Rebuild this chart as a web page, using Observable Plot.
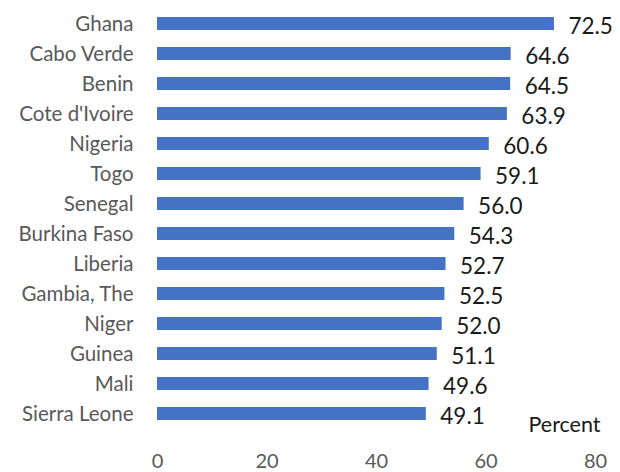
<!DOCTYPE html>
<html>
<head>
<meta charset="utf-8">
<script src="https://cdn.jsdelivr.net/npm/d3@7"></script>
<script src="https://cdn.jsdelivr.net/npm/@observablehq/plot@0.6"></script>
<style>
  html, body { margin: 0; padding: 0; background: #fff; }
  #chart svg { font-family: Lato, "Open Sans", sans-serif; }
</style>
</head>
<body>
<div id="chart"></div>
<script>
const countries = ["Ghana", "Cabo Verde", "Benin", "Cote d'Ivoire", "Nigeria", "Togo", "Senegal", "Burkina Faso", "Liberia", "Gambia, The", "Niger", "Guinea", "Mali", "Sierra Leone"];
const values = [72.5, 64.6, 64.5, 63.9, 60.6, 59.1, 56.0, 54.3, 52.7, 52.5, 52.0, 51.1, 49.6, 49.1];
const xTicks = [0, 20, 40, 60, 80];
const unitLabel = "Percent";

const data = countries.map((c, i) => ({country: c, value: values[i]}));

const chart = Plot.plot({
  width: 620,
  height: 472,
  marginLeft: 157,
  marginRight: 25,
  marginTop: 9.5,
  marginBottom: 45.5,
  style: {fontFamily: "Lato, 'Open Sans', sans-serif", background: "#fff"},
  x: {domain: [0, 80], ticks: xTicks},
  y: {domain: countries, paddingInner: 0.57, paddingOuter: 0.2},
  marks: [
    Plot.barX(data, {x: "value", y: "country", fill: "#4472C4"}),
    Plot.text(data, {x: "value", y: "country", text: d => d.value.toFixed(1), textAnchor: "start", dx: 14, dy: 3, fontSize: 22.5, fill: "#1a1a1a"}),
    Plot.axisY({tickSize: 0, tickPadding: 24, fontSize: 20.5, color: "#595959", label: null}),
    Plot.axisX({ticks: xTicks, tickSize: 0, tickPadding: 27, fontSize: 20, color: "#595959", label: null}),
    Plot.text([unitLabel], {frameAnchor: "bottom-right", text: d => d, textAnchor: "end", dx: 5, dy: 5, fontSize: 21.5, fill: "#1a1a1a"})
  ]
});
document.getElementById("chart").appendChild(chart);
</script>
</body>
</html>
